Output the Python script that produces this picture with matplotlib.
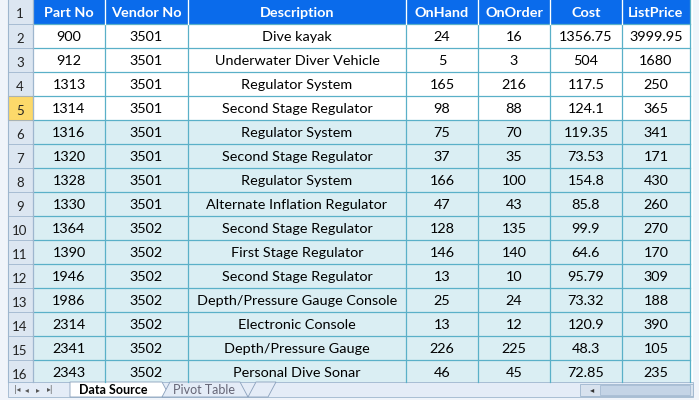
import matplotlib
matplotlib.use("Agg")
import matplotlib.pyplot as plt
from matplotlib.patches import Rectangle, Polygon

headers = ["Part No", "Vendor No", "Description", "OnHand", "OnOrder", "Cost", "ListPrice"]
part_no = [900, 912, 1313, 1314, 1316, 1320, 1328, 1330, 1364, 1390, 1946, 1986, 2314, 2341, 2343]
vendor_no = [3501]*8 + [3502]*7
description = ["Dive kayak", "Underwater Diver Vehicle", "Regulator System", "Second Stage Regulator",
               "Regulator System", "Second Stage Regulator", "Regulator System",
               "Alternate Inflation Regulator", "Second Stage Regulator", "First Stage Regulator",
               "Second Stage Regulator", "Depth/Pressure Gauge Console", "Electronic Console",
               "Depth/Pressure Gauge", "Personal Dive Sonar"]
on_hand = [24, 5, 165, 98, 75, 37, 166, 47, 128, 146, 13, 25, 13, 226, 46]
on_order = [16, 3, 216, 88, 70, 35, 100, 43, 135, 140, 10, 24, 12, 225, 45]
cost = ["1356.75", "504", "117.5", "124.1", "119.35", "73.53", "154.8", "85.8", "99.9", "64.6",
        "95.79", "73.32", "120.9", "48.3", "72.85"]
list_price = ["3999.95", "1680", "250", "365", "341", "171", "430", "260", "270", "170",
              "309", "188", "390", "105", "235"]
tabs = ["Data Source", "Pivot Table"]

col_x = [33, 105, 188, 406, 478, 550, 622, 690]
row_h = 24
hdr_h = 24
FONT = "Lato"
FS = 10.4

fig = plt.figure(figsize=(6.99, 4.0), dpi=100)
ax = fig.add_axes([0, 0, 1, 1])
ax.set_xlim(0, 699); ax.set_ylim(400, 0); ax.axis("off")
fig.patch.set_facecolor("white")

grid = "#5AB0C8"
ax.add_patch(Rectangle((0, 0), 699, 400, fc="#F0F4FA", ec="none"))
ax.add_patch(Rectangle((8, 0), 685, 383, fc="white", ec="none"))
ax.add_patch(Rectangle((8, 0), col_x[0]-8, 383, fc="#DCE6F1", ec="none"))
ax.add_patch(Rectangle((col_x[0], 0), col_x[-1]-col_x[0], hdr_h, fc="#0A6BEB", ec="none"))
for i, h in enumerate(headers):
    ax.text((col_x[i]+col_x[i+1])/2, hdr_h/2+1, h, ha="center", va="center", color="white",
            fontsize=FS, fontweight="bold", family=FONT)
ax.text(20, hdr_h/2+2, "1", ha="center", va="center", fontsize=9.5, family=FONT, color="#222")

rows = list(zip(part_no, vendor_no, description, on_hand, on_order, cost, list_price))
for r, vals in enumerate(rows):
    y0 = hdr_h + r*row_h
    bg = "white" if r < 4 else "#DAEEF3"
    ax.add_patch(Rectangle((col_x[0], y0), col_x[-1]-col_x[0], row_h, fc=bg, ec="none"))
    if r == 3:
        ax.add_patch(Rectangle((8, y0), col_x[0]-8, row_h, fc="#FCD96A", ec="#E2A83A", lw=0.8))
    ax.plot([8, col_x[0]], [y0, y0], color="#9EB6CE", lw=0.6)
    ax.text(20, y0+row_h/2+3, str(r+2), ha="center", va="center", fontsize=9.5, family=FONT, color="#222")
    for i, v in enumerate(vals):
        ax.text((col_x[i]+col_x[i+1])/2, y0+row_h/2+1, str(v), ha="center", va="center",
                fontsize=FS, family=FONT, color="black")
bottom = hdr_h + len(rows)*row_h - 2
for r in range(len(rows)+1):
    y = hdr_h + r*row_h
    if y <= bottom:
        ax.plot([col_x[0], col_x[-1]], [y, y], color=grid, lw=0.9)
for x in col_x:
    ax.plot([x, x], [0, bottom], color=grid if x != col_x[0] else "#9EB6CE", lw=0.9)
for x in col_x[1:-1]:
    ax.plot([x, x], [0, hdr_h], color="white", lw=0.9)
ax.plot([8, 8], [0, bottom], color="#9EB6CE", lw=0.8)

ty = bottom
ax.add_patch(Rectangle((8, ty), 685, 400-ty-3, fc="#E4ECF7", ec="#9EB6CE", lw=0.6))
for k, s in enumerate(["|◂", "◂", "▸", "▸|"]):
    ax.text(14+k*11, ty+8, s, fontsize=5.5, va="center", color="#555")
ax.add_patch(Polygon([(70, ty), (162, ty), (170, ty+15), (70, ty+15)], closed=True, fc="white", ec="#8AA0BC", lw=0.6))
ax.text(79, ty+8, tabs[0], fontsize=9, fontweight="bold", family=FONT, va="center")
ax.add_patch(Polygon([(162, ty+15), (170, ty), (240, ty), (248, ty+15)], closed=True, fc="#E4ECF7", ec="#8AA0BC", lw=0.6))
ax.text(173, ty+8, tabs[1], fontsize=9, family=FONT, va="center", color="#667")
ax.add_patch(Polygon([(248, ty+15), (256, ty), (276, ty), (268, ty+15)], closed=True, fc="#E4ECF7", ec="#8AA0BC", lw=0.6))
ax.add_patch(Rectangle((580, ty+2), 113, 12, fc="#D8E2EE", ec="#9EB6CE", lw=0.6))
ax.text(590, ty+8, "◂", fontsize=6, va="center", color="#333")
ax.add_patch(Rectangle((600, ty+3), 90, 10, fc="#C4D4E6", ec="#9EB6CE", lw=0.5))

fig.savefig("out.png", dpi=100, facecolor=fig.get_facecolor())
